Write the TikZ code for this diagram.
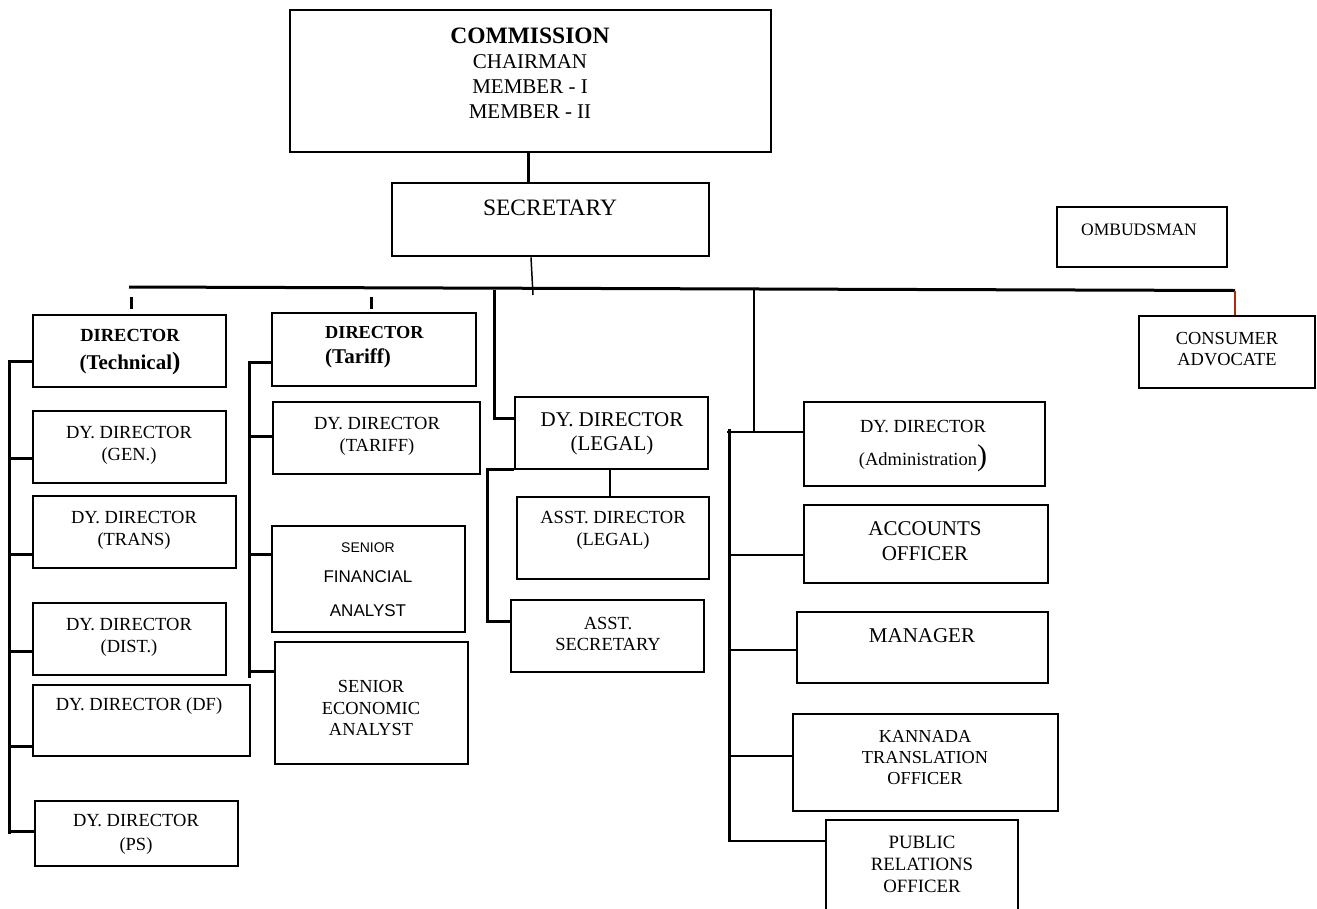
\documentclass[tikz,border=0pt]{standalone}
\usepackage{fontspec}
\setmainfont{Liberation Serif}
\newfontfamily\sansf{Liberation Sans}
\definecolor{redline}{RGB}{175,40,15}
\tikzset{
  box/.style={draw, rectangle, line width=2.8pt, inner sep=0pt},
  lbl/.style={align=center, inner sep=0pt},
  thickln/.style={line width=3pt},
  midln/.style={line width=2.4pt},
  thinln/.style={line width=1.5pt},
  fa/.style={font=\fontsize{18.5}{21.7}\selectfont},
  fb/.style={font=\fontsize{21}{25}\selectfont},
}
\begin{document}
\begin{tikzpicture}[x=1pt,y=-1pt]
\useasboundingbox (0,0) rectangle (1317,908);
\clip (0,0) rectangle (1317,908);
\fill[white] (0,0) rectangle (1317,908);

% boxes
\node[box, minimum width=481pt, minimum height=142pt] (comm) at (530.5,81) {};
\node[box, minimum width=317pt, minimum height=73pt] (sec) at (550.5,219.5) {};
\node[box, minimum width=170pt, minimum height=60pt] (omb) at (1142,237) {};
\node[box, minimum width=193pt, minimum height=72pt] (tech) at (129.5,351) {};
\node[box, minimum width=204pt, minimum height=73pt] (tariff) at (374,349.5) {};
\node[box, minimum width=193pt, minimum height=72pt] (gen) at (129.5,447) {};
\node[box, minimum width=203pt, minimum height=72pt] (trans) at (134.5,532) {};
\node[box, minimum width=193pt, minimum height=72pt] (dist) at (129.5,639) {};
\node[box, minimum width=217pt, minimum height=71pt] (df) at (141.5,720.5) {};
\node[box, minimum width=203pt, minimum height=65pt] (ps) at (136.5,833.5) {};
\node[box, minimum width=207pt, minimum height=72pt] (dtar) at (376.5,438) {};
\node[box, minimum width=193pt, minimum height=106pt] (sfa) at (368.5,579) {};
\node[box, minimum width=193pt, minimum height=122pt] (sea) at (371.5,703) {};
\node[box, minimum width=193pt, minimum height=72pt] (dleg) at (611.5,433) {};
\node[box, minimum width=192pt, minimum height=82pt] (aleg) at (613,538) {};
\node[box, minimum width=193pt, minimum height=72pt] (asec) at (607.5,636) {};
\node[box, minimum width=176pt, minimum height=72pt] (cons) at (1227,352) {};
\node[box, minimum width=241pt, minimum height=84pt] (adm) at (924.5,444) {};
\node[box, minimum width=244pt, minimum height=78pt] (acc) at (926,544) {};
\node[box, minimum width=251pt, minimum height=71pt] (mgr) at (922.5,647.5) {};
\node[box, minimum width=265pt, minimum height=97pt] (kan) at (925.5,762.5) {};
\node[box, minimum width=192pt, minimum height=95pt] (pr) at (922,867.5) {};

% texts
\node[lbl, fb] (commt) at (530,73) {{\bfseries\fontsize{23.5}{25}\selectfont COMMISSION}\\CHAIRMAN\\MEMBER - I\\MEMBER - II};
\node[lbl, font=\fontsize{23.5}{26}\selectfont] (sect) at (550,208) {SECRETARY};
\node[lbl, font=\fontsize{17.5}{20}\selectfont] (ombt) at (1139,230) {OMBUDSMAN};
\node[lbl, font=\bfseries\fontsize{18.5}{28.5}\selectfont] (techt) at (130,352) {DIRECTOR\\{\fontsize{21}{25}\selectfont(Technical{\fontsize{25}{25}\selectfont)}}};
\node[lbl, align=left, anchor=west, font=\bfseries\fontsize{18.3}{25}\selectfont] (tarifft) at (325,347) {DIRECTOR\\{\fontsize{21}{25}\selectfont(Tariff)}};
\node[lbl, fa] (gent) at (129,445) {DY. DIRECTOR\\(GEN.)};
\node[lbl, fa] (transt) at (134,530) {DY. DIRECTOR\\(TRANS)};
\node[lbl, fa] (distt) at (129,637) {DY. DIRECTOR\\(DIST.)};
\node[lbl, fa] (dft) at (139,706) {DY. DIRECTOR (DF)};
\node[lbl, font=\fontsize{18.5}{24}\selectfont] (pst) at (136,834.5) {DY. DIRECTOR\\(PS)};
\node[lbl, fa] (dtart) at (377,436) {DY. DIRECTOR\\(TARIFF)};
\node[lbl, font=\sansf\fontsize{17}{21}\selectfont] (sfat) at (368,580) {{\fontsize{14}{17}\selectfont SENIOR}\\[9pt]FINANCIAL\\[13pt]ANALYST};
\node[lbl, font=\fontsize{18.4}{21.3}\selectfont] (seat) at (371,708) {SENIOR\\ECONOMIC\\ANALYST};
\node[lbl, font=\fontsize{21}{24.5}\selectfont] (dlegt) at (612,434) {DY. DIRECTOR\\(LEGAL)};
\node[lbl, fa] (alegt) at (613,530) {ASST. DIRECTOR\\(LEGAL)};
\node[lbl, font=\fontsize{18.5}{21}\selectfont] (asect) at (608,634) {ASST.\\SECRETARY};
\node[lbl, font=\fontsize{18.4}{21}\selectfont] (const) at (1227,349.5) {CONSUMER\\ADVOCATE};
\node[lbl, font=\fontsize{18.5}{33.5}\selectfont] (admt) at (923,446) {DY. DIRECTOR\\(Administration{\fontsize{30}{30}\selectfont)}};
\node[lbl, fb] (acct) at (925,541.5) {ACCOUNTS\\OFFICER};
\node[lbl, fb] (mgrt) at (922,636) {MANAGER};
\node[lbl, font=\fontsize{18.3}{21}\selectfont] (kant) at (925,758) {KANNADA\\TRANSLATION\\OFFICER};
\node[lbl, font=\fontsize{18.8}{21.7}\selectfont] (prt) at (922,864.5) {PUBLIC\\RELATIONS\\OFFICER};

% coordinates
\coordinate (secend) at (533,295);
\coordinate (barL) at (129,287);
\coordinate (barR) at (1235,290.5);
\coordinate (t1a) at (131,296.5);
\coordinate (t1b) at (131,308.5);
\coordinate (t2a) at (371,296.5);
\coordinate (t2b) at (371,308.5);
\coordinate (legtop) at (494,290);
\coordinate (j754a) at (754,289);
\coordinate (j754b) at (754,432);
\coordinate (rvt) at (729.5,429);
\coordinate (rvb) at (729.5,842);
\coordinate (lvb) at (9.3,834);
\coordinate (tvb) at (249.3,677.7);

% connectors
\draw[thickln] ([xshift=-2.5]comm.south) -- ([xshift=-22.5]sec.north);
\draw[thinln] ([xshift=-19.5]sec.south) -- (secend);
\draw[thickln] (barL) -- (barR);
\draw[redline, line width=2.4pt] (barR) -- (cons.north -| barR);
\draw[thickln] (t1a) -- (t1b);
\draw[thickln] (t2a) -- (t2b);

% legal
\draw[thickln] (legtop) |- ([yshift=14.7]dleg.west);
\draw[midln] ([xshift=-1.5]dleg.south) -- ([xshift=-3]aleg.north);
\draw[thickln] ([yshift=0.7]dleg.south west) -- ++(-25.7,0) |- ([yshift=14.3]asec.west);

% right column
\draw[thinln] (j754a) -- (j754b);
\draw[thickln] (rvt) -- (rvb);
\draw[midln] ([yshift=12]adm.west) -- ++(-76,0);
\draw[midln] ([yshift=-11]acc.west) -- ++(-74.5,0);
\draw[midln] ([yshift=-2.5]mgr.west) -- ++(-67.5,0);
\draw[midln] ([yshift=6.5]kan.west) -- ++(-63.5,0);
\draw[midln] ([yshift=26.5]pr.west) -- ++(-96.5,0);

% left column
\draw[thickln] ([yshift=-10.7]tech.west) -| (lvb);
\draw[thickln] ([yshift=-11]gen.west) -- ++(-23.7,0);
\draw[thickln] ([yshift=-22]trans.west) -- ++(-23.7,0);
\draw[thickln] ([yshift=-12]dist.west) -- ++(-23.7,0);
\draw[thickln] ([yshift=-26.2]df.west) -- ++(-23.7,0);
\draw[thickln] ([yshift=1.8]ps.west) -- ++(-25.7,0);

% tariff column
\draw[thickln] ([yshift=-13.2]tariff.west) -| (tvb);
\draw[thickln] ([yshift=1.3]dtar.west) -- ++(-23.7,0);
\draw[thickln] ([yshift=25]sfa.west) -- ++(-22.7,0);
\draw[thickln] ([yshift=31.3]sea.west) -- ++(-25.7,0);
\end{tikzpicture}
\end{document}
